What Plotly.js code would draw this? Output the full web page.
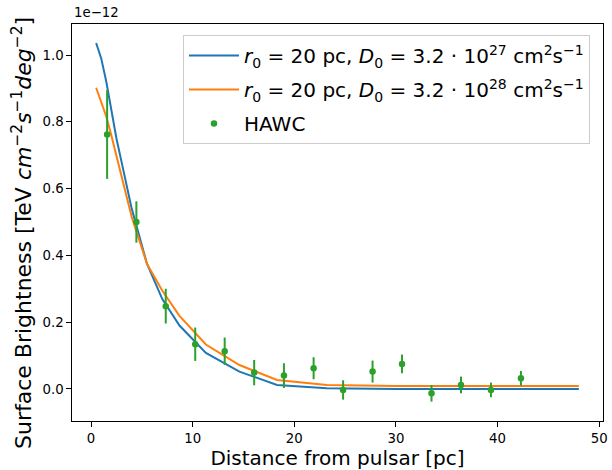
<!DOCTYPE html>
<html>
<head>
<meta charset="utf-8">
<script src="https://cdn.plot.ly/plotly-3.0.1.min.js"></script>
<style>html,body{margin:0;padding:0;background:#fff;}#chart{width:612px;height:470px;}</style>
</head>
<body>
<div id="chart"></div>
<script>
// Model radii [pc]
const modelX = [0.5, 1.0, 1.5, 2.0, 2.5, 3.0, 4.0, 5.5, 7.0, 8.7, 11.3, 14.6, 18.3, 23.2, 30, 40, 48];
// Surface brightness in units of 1e-12 TeV cm^-2 s^-1 deg^-2
const modelD27 = [1.036, 0.99, 0.92, 0.83, 0.75, 0.68, 0.54, 0.375, 0.27, 0.19, 0.108, 0.052, 0.012, 0.002, 0.0, 0.0, 0.0];
const modelD28 = [0.902, 0.862, 0.816, 0.759, 0.698, 0.637, 0.515, 0.375, 0.295, 0.219, 0.133, 0.0716, 0.027, 0.012, 0.009, 0.009, 0.009];
// HAWC data points (units of 1e-12)
const hawcX = [1.58, 4.46, 7.35, 10.25, 13.15, 16.05, 18.98, 21.9, 24.8, 27.7, 30.6, 33.5, 36.4, 39.35, 42.3];
const hawcY = [0.762, 0.50, 0.248, 0.134, 0.113, 0.049, 0.040, 0.062, -0.003, 0.052, 0.075, -0.013, 0.012, -0.003, 0.032];
const hawcErr = [0.133, 0.062, 0.052, 0.05, 0.041, 0.038, 0.037, 0.033, 0.029, 0.033, 0.028, 0.025, 0.025, 0.022, 0.022];

const legend1 = '<i>r</i><sub>0</sub> = 20 pc, <i>D</i><sub>0</sub> = 3.2 · 10<sup>27</sup> cm<sup>2</sup>s<sup>−1</sup>';
const legend2 = '<i>r</i><sub>0</sub> = 20 pc, <i>D</i><sub>0</sub> = 3.2 · 10<sup>28</sup> cm<sup>2</sup>s<sup>−1</sup>';
const yTitle = 'Surface Brightness [TeV <i>cm</i><sup>−2</sup><i>s</i><sup>−1</sup><i>deg</i><sup>−2</sup>]';

const font = 'DejaVu Sans, sans-serif';

const traces = [
  {x: modelX, y: modelD27, type: 'scatter', mode: 'lines', name: legend1, legendgroup: 'a',
   line: {color: '#1f77b4', width: 2}},
  {x: modelX, y: modelD28, type: 'scatter', mode: 'lines', name: legend2, legendgroup: 'b',
   line: {color: '#ff7f0e', width: 2}},
  {x: hawcX, y: hawcY, type: 'scatter', mode: 'markers', name: 'HAWC', legendgroup: 'c',
   marker: {color: '#2ca02c', size: 6.5},
   error_y: {type: 'data', array: hawcErr, visible: true, color: '#2ca02c', thickness: 2, width: 0}}
];

const layout = {
  width: 612, height: 470,
  margin: {l: 72, r: 9, t: 24, b: 49},
  paper_bgcolor: '#fff', plot_bgcolor: '#fff',
  font: {family: font, color: '#000', size: 13.3},
  showlegend: true,
  legend: {x: 0.209, y: 0.972, xanchor: 'left', yanchor: 'top',
    font: {family: font, size: 20, color: '#000'},
    itemwidth: 50, tracegroupgap: 5,
    bgcolor: 'rgba(255,255,255,0.8)', bordercolor: '#cccccc', borderwidth: 1},
  xaxis: {range: [-1.875, 50.375], showgrid: false, zeroline: false,
    showline: true, mirror: true, linecolor: '#000', linewidth: 1,
    ticks: 'outside', ticklen: 4.7, tickwidth: 1, tickcolor: '#000',
    tickvals: [0, 10, 20, 30, 40, 50], tickfont: {size: 13.3},
    title: {text: 'Distance from pulsar [pc]', font: {size: 20}, standoff: 5}},
  yaxis: {range: [-0.096, 1.093], showgrid: false, zeroline: false,
    showline: true, mirror: true, linecolor: '#000', linewidth: 1,
    ticks: 'outside', ticklen: 4.7, tickwidth: 1, tickcolor: '#000',
    tickvals: [0, 0.2, 0.4, 0.6, 0.8, 1.0], ticktext: ['0.0', '0.2', '0.4', '0.6', '0.8', '1.0'],
    tickfont: {size: 13.3}},
  annotations: [
    {text: '1e−12', xref: 'paper', yref: 'paper', x: 0, y: 1, xanchor: 'left', yanchor: 'bottom',
     yshift: 2, showarrow: false, font: {size: 13.3, family: font}},
    {text: yTitle, xref: 'paper', yref: 'paper', x: -0.0942, y: 0.4736, xanchor: 'center', yanchor: 'middle',
     textangle: -90, showarrow: false, font: {size: 22, family: font}}
  ]
};

Plotly.newPlot('chart', traces, layout, {displayModeBar: false, staticPlot: true});
</script>
</body>
</html>
